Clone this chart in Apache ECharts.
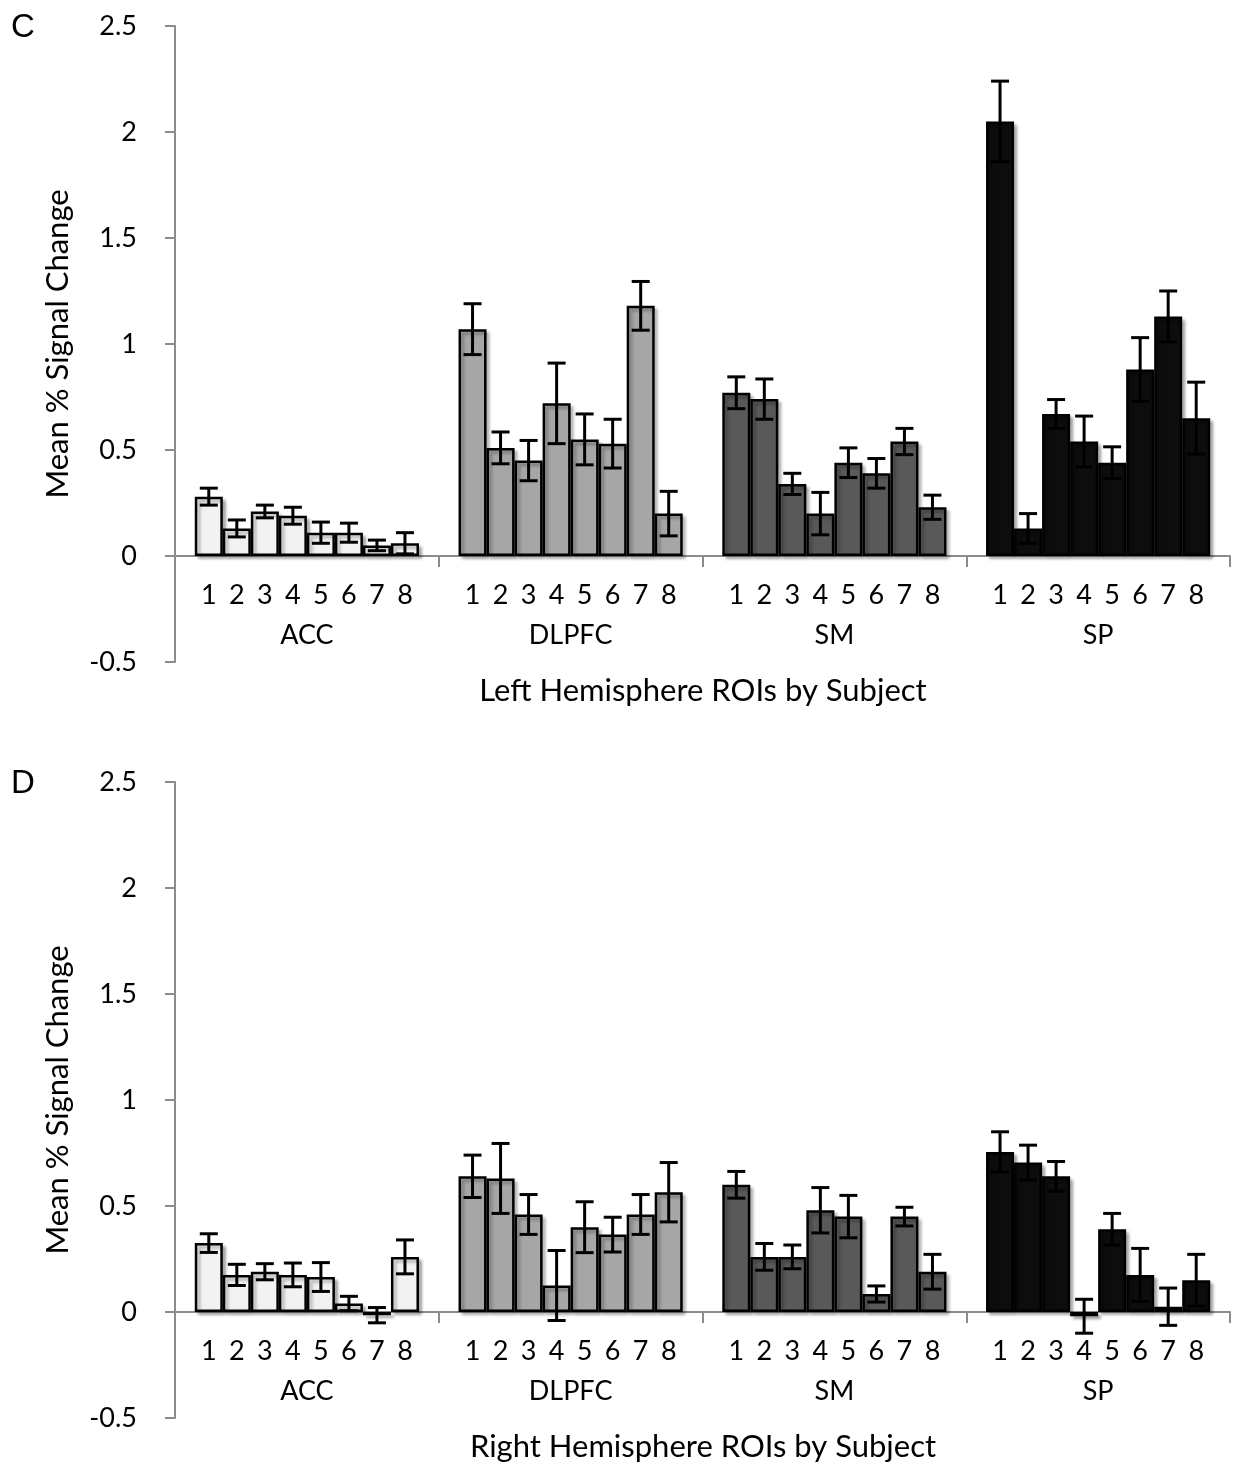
<!DOCTYPE html>
<html>
<head>
<meta charset="utf-8">
<title>Mean % Signal Change by ROI and Subject</title>
<script src="https://cdn.jsdelivr.net/npm/echarts@6/dist/echarts.min.js"></script>
<style>
  html, body { margin: 0; background: #fff; }
  #main { width: 1236px; height: 1464px; }
</style>
</head>
<body>
<div id="main"></div>
<script>
// regions of interest and subjects
var rois = ['ACC', 'DLPFC', 'SM', 'SP'];
var subjects = ['1', '2', '3', '4', '5', '6', '7', '8'];

// C: left hemisphere, mean and error per subject
var leftAcc = [0.28, 0.13, 0.21, 0.19, 0.11, 0.11, 0.05, 0.06];
var leftAccErr = [0.04, 0.04, 0.03, 0.04, 0.05, 0.045, 0.025, 0.05];
var leftDlpfc = [1.07, 0.51, 0.45, 0.72, 0.55, 0.53, 1.18, 0.20];
var leftDlpfcErr = [0.12, 0.075, 0.095, 0.19, 0.12, 0.115, 0.115, 0.105];
var leftSm = [0.77, 0.74, 0.34, 0.20, 0.44, 0.39, 0.54, 0.23];
var leftSmErr = [0.075, 0.095, 0.05, 0.10, 0.07, 0.07, 0.062, 0.057];
var leftSp = [2.05, 0.13, 0.67, 0.54, 0.44, 0.88, 1.13, 0.65];
var leftSpErr = [0.19, 0.07, 0.068, 0.12, 0.075, 0.15, 0.12, 0.17];

// D: right hemisphere
var rightAcc = [0.325, 0.175, 0.19, 0.175, 0.165, 0.04, -0.015, 0.26];
var rightAccErr = [0.044, 0.05, 0.038, 0.056, 0.068, 0.034, 0.036, 0.08];
var rightDlpfc = [0.64, 0.63, 0.46, 0.125, 0.40, 0.365, 0.46, 0.565];
var rightDlpfcErr = [0.10, 0.165, 0.094, 0.165, 0.12, 0.082, 0.094, 0.14];
var rightSm = [0.60, 0.26, 0.26, 0.48, 0.45, 0.085, 0.45, 0.19];
var rightSmErr = [0.063, 0.063, 0.056, 0.107, 0.10, 0.038, 0.044, 0.082];
var rightSp = [0.755, 0.705, 0.64, -0.02, 0.39, 0.175, 0.025, 0.15];
var rightSpErr = [0.095, 0.082, 0.07, 0.08, 0.075, 0.125, 0.088, 0.122];

var roiColors = ['#f2f2f2', '#a6a6a6', '#595959', '#0d0d0d'];
var axisGray = '#8c8c8c';
var gapRatio = 0.15;   // barCategoryGap
var font = 'Lato';

var panels = [
  { means: [leftAcc, leftDlpfc, leftSm, leftSp], errs: [leftAccErr, leftDlpfcErr, leftSmErr, leftSpErr] },
  { means: [rightAcc, rightDlpfc, rightSm, rightSp], errs: [rightAccErr, rightDlpfcErr, rightSmErr, rightSpErr] }
];

var chart = echarts.init(document.getElementById('main'));

var grids = [], xAxes = [], yAxes = [], series = [];

panels.forEach(function (p, pi) {
  grids.push({ left: 175, right: 6, top: pi === 0 ? 26 : 782, height: 636 });

  xAxes.push({
    type: 'category', gridIndex: pi, data: rois,
    axisLine: { onZero: true, lineStyle: { color: axisGray, width: 2 } },
    axisTick: { show: true, length: 11, lineStyle: { color: axisGray, width: 2 } },
    axisLabel: { show: false },
    splitLine: { show: false }
  });

  yAxes.push({
    type: 'value', gridIndex: pi, min: -0.5, max: 2.5, interval: 0.5,
    name: 'Mean % Signal Change', nameLocation: 'middle', nameGap: 102,
    nameTextStyle: { fontFamily: font, fontSize: 31, color: '#000' },
    axisLine: { show: true, lineStyle: { color: axisGray, width: 2 } },
    axisTick: { show: true, length: 10, lineStyle: { color: axisGray, width: 2 } },
    axisLabel: { margin: 38, fontFamily: font, fontSize: 27, color: '#000' },
    splitLine: { show: false }
  });

  subjects.forEach(function (s, j) {
    series.push({
      type: 'bar', name: 'S' + s, xAxisIndex: pi, yAxisIndex: pi,
      barGap: '0%', barCategoryGap: (gapRatio * 100) + '%',
      silent: true,
      itemStyle: {
        borderColor: '#000', borderWidth: 2.5,
        shadowColor: 'rgba(0,0,0,0.28)', shadowBlur: 3, shadowOffsetX: 3, shadowOffsetY: 3
      },
      data: rois.map(function (r, g) {
        return { value: p.means[g][j], itemStyle: { color: roiColors[g] } };
      })
    });
  });

  // error bars, subject numbers and ROI names under the zero line
  var errData = [];
  rois.forEach(function (r, g) {
    subjects.forEach(function (s, j) {
      errData.push([g, j, p.means[g][j], p.errs[g][j]]);
    });
  });
  series.push({
    type: 'custom', xAxisIndex: pi, yAxisIndex: pi, silent: true, z: 5,
    encode: { x: 0, y: 2 },
    data: errData,
    renderItem: function (params, api) {
      var g = api.value(0), j = api.value(1), m = api.value(2), e = api.value(3);
      var band = api.size([1, 0])[0];
      var bw = band * (1 - gapRatio) / 8;
      var cx = api.coord([g, 0]);
      var x = cx[0] - band * (1 - gapRatio) / 2 + (j + 0.5) * bw;
      var yHi = api.coord([g, m + e])[1];
      var yLo = api.coord([g, m - e])[1];
      var st = { stroke: '#000', lineWidth: 3 };
      var cap = 9;
      var kids = [
        { type: 'line', shape: { x1: x, y1: yHi, x2: x, y2: yLo }, style: st },
        { type: 'line', shape: { x1: x - cap, y1: yHi, x2: x + cap, y2: yHi }, style: st },
        { type: 'line', shape: { x1: x - cap, y1: yLo, x2: x + cap, y2: yLo }, style: st },
        { type: 'text', style: { text: subjects[j], x: x, y: cx[1] + 39, align: 'center', verticalAlign: 'middle',
            fontFamily: font, fontSize: 27, fill: '#000' } }
      ];
      if (j === 0) {
        kids.push({ type: 'text', style: { text: rois[g], x: cx[0], y: cx[1] + 79, align: 'center', verticalAlign: 'middle',
            fontFamily: font, fontSize: 27, fill: '#000' } });
      }
      return { type: 'group', children: kids };
    }
  });
});

chart.setOption({
  animation: false,
  backgroundColor: '#fff',
  grid: grids,
  xAxis: xAxes,
  yAxis: yAxes,
  series: series,
  graphic: [
    { type: 'text', left: 11, top: 11, style: { text: 'C', fontFamily: 'Liberation Sans', fontSize: 33, fill: '#000' } },
    { type: 'text', left: 11, top: 767, style: { text: 'D', fontFamily: 'Liberation Sans', fontSize: 33, fill: '#000' } },
    { type: 'text', x: 703, y: 691, style: { text: 'Left Hemisphere ROIs by Subject', align: 'center', verticalAlign: 'middle',
        fontFamily: font, fontSize: 31, fill: '#000' } },
    { type: 'text', x: 703, y: 1447, style: { text: 'Right Hemisphere ROIs by Subject', align: 'center', verticalAlign: 'middle',
        fontFamily: font, fontSize: 31, fill: '#000' } }
  ]
});
</script>
</body>
</html>
